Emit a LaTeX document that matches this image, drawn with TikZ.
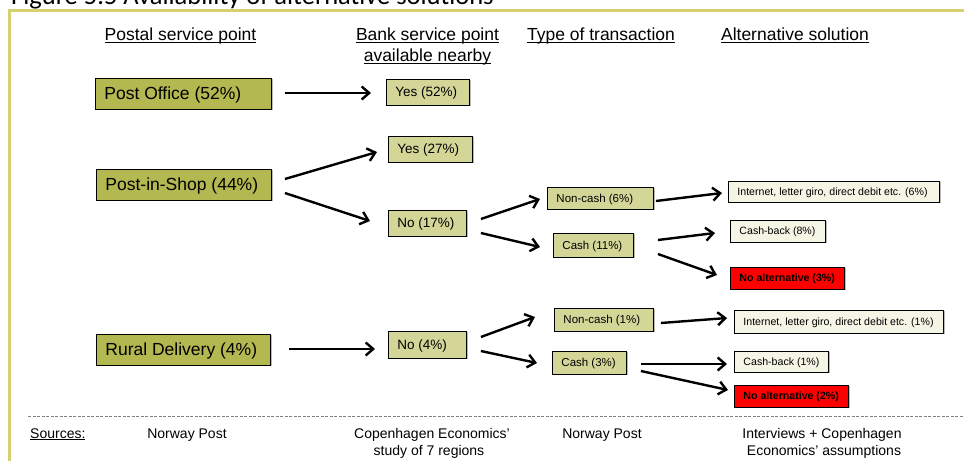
\documentclass[tikz,border=0pt]{standalone}
\usepackage{fontspec}
\setmainfont{Liberation Sans}
\newfontfamily\titlefont{Carlito}
\usetikzlibrary{arrows.meta,calc,shadows}
\definecolor{olivedark}{HTML}{B4B850}
\definecolor{olivemid}{HTML}{D4D698}
\definecolor{olivelight}{HTML}{F5F5E6}
\definecolor{framegold}{HTML}{D6D170}
\definecolor{redbox}{HTML}{FF0000}
\newcommand{\lefttext}[2]{\makebox[#1][l]{#2}}
\newcommand{\ulx}[1]{\leavevmode\setbox0\hbox{#1}\rlap{\rule[-1.9pt]{\wd0}{0.8pt}}\box0}
\begin{document}
\begin{tikzpicture}[x=1pt,y=-1pt,
 basebox/.style={draw=black, line width=0.9pt, inner xsep=9pt, inner ysep=0pt, anchor=west, text depth=0pt,
   drop shadow={shadow xshift=1.2pt,shadow yshift=-1.2pt,fill=black!45,opacity=0.6}},
 bigbox/.style={basebox, fill=olivedark, font=\fontsize{17.5}{20}\selectfont, text height=12.6pt},
 midbox/.style={basebox, fill=olivemid, font=\fontsize{13.5}{16}\selectfont, text height=9.7pt},
 smallbox/.style={basebox, fill=olivemid, font=\fontsize{11.5}{14}\selectfont, text height=8.3pt},
 altbox/.style={basebox, fill=olivelight, font=\fontsize{10.6}{13}\selectfont, text height=7.6pt},
 nobox/.style={basebox, fill=redbox, font=\fontsize{10.6}{13}\selectfont\bfseries, text height=7.6pt},
 arr/.style={-{Straight Barb[length=7.5pt,width=13pt]}, line width=2.4pt},
 head/.style={font=\fontsize{17.5}{21}\selectfont, anchor=base, inner sep=0pt},
 src/.style={font=\fontsize{14}{17.5}\selectfont, anchor=base, inner sep=0pt}]
\useasboundingbox (0,0) rectangle (964,461);
\clip (0,0) rectangle (964,461);

% title (cut off at top)
\node[anchor=base west, inner sep=0pt, font=\titlefont\fontsize{26.5}{30}\selectfont] (title) at (11,4.2) {Figure 5.5 Availability of alternative solutions};

% frame
\draw[framegold, line width=3pt] (964,10.7) -- (9.5,10.7) -- (9.5,461);

% headers
\node[head] (h1) at (180.5,40.5) {\ulx{Postal service point}};
\node[head] (h2a) at (427.5,40.5) {\ulx{Bank service point}};
\node[head] (h2b) at (427.5,61.5) {\ulx{available nearby}};
\node[head] (h3) at (601,40.5) {\ulx{Type of transaction}};
\node[head] (h4) at (795,40.5) {\ulx{Alternative solution}};

% column 1
\node[bigbox, minimum height=31pt] (po) at (95,93.5) {\lefttext{158pt}{Post Office (52\%)}};
\node[bigbox, minimum height=31pt] (pis) at (96,184.5) {\lefttext{157pt}{Post-in-Shop (44\%)}};
\node[bigbox, minimum height=31pt] (rd) at (96,349.5) {\lefttext{156pt}{Rural Delivery (4\%)}};

% column 2
\node[midbox, minimum height=26pt] (yes52) at (386,92) {\lefttext{65pt}{Yes (52\%)}};
\node[midbox, minimum height=26pt] (yes27) at (388,149) {\lefttext{66pt}{Yes (27\%)}};
\node[midbox, minimum height=26pt] (no17) at (388,223) {\lefttext{60pt}{No (17\%)}};
\node[midbox, minimum height=27pt] (no4) at (388,344.5) {\lefttext{60pt}{No (4\%)}};

% column 3
\node[smallbox, minimum height=22pt] (nc6) at (547,198) {\lefttext{88pt}{Non-cash (6\%)}};
\node[smallbox, minimum height=24pt] (c11) at (553,245) {\lefttext{62pt}{Cash (11\%)}};
\node[smallbox, minimum height=23pt] (nc1) at (554,319.5) {\lefttext{81pt}{Non-cash (1\%)}};
\node[smallbox, minimum height=23pt] (c3) at (552,362.5) {\lefttext{56pt}{Cash (3\%)}};

% column 4
\node[altbox, minimum height=21pt] (int6) at (728,191.5) {\lefttext{193pt}{Internet, letter giro, direct debit etc. (6\%)}};
\node[altbox, minimum height=22pt] (cb8) at (730,231) {\lefttext{77pt}{Cash-back (8\%)}};
\node[nobox, minimum height=22pt] (na3) at (730,278) {\lefttext{96pt}{No alternative (3\%)}};
\node[altbox, minimum height=23pt] (int1) at (734,321.5) {\lefttext{191pt}{Internet, letter giro, direct debit etc. (1\%)}};
\node[altbox, minimum height=21pt] (cb1) at (734,361.5) {\lefttext{76pt}{Cash-back (1\%)}};
\node[nobox, minimum height=22pt] (na2) at (734,396) {\lefttext{96pt}{No alternative (2\%)}};

% arrows
\draw[arr] ($(po.east)+(13,-0.5)$) -- ($(yes52.west)+(-15,1)$);
\draw[arr] ($(pis.east)+(13,-5.5)$) -- ($(yes27.west)+(-11,3)$);
\draw[arr] ($(pis.east)+(13,8.5)$) -- ($(no17.west)+(-18,-2)$);
\draw[arr] ($(no17.east)+(14,-4)$) -- ($(nc6.west)+(-7,1)$);
\draw[arr] ($(no17.east)+(14,10)$) -- ($(c11.west)+(-13,2)$);
\draw[arr] ($(nc6.east)+(2,3)$) -- ($(int6.west)+(-6,1.5)$);
\draw[arr] ($(c11.east)+(24,-5)$) -- ($(cb8.west)+(-15,2)$);
\draw[arr] ($(c11.east)+(24,9)$) -- ($(na3.west)+(-13,-3)$);
\draw[arr] ($(rd.east)+(18,-0.5)$) -- ($(no4.west)+(-13,4.5)$);
\draw[arr] ($(no4.east)+(14,-7.5)$) -- ($(nc1.west)+(-19,-2.5)$);
\draw[arr] ($(no4.east)+(14,6.5)$) -- ($(c3.west)+(-15,0.5)$);
\draw[arr] ($(nc1.east)+(7,3.5)$) -- ($(int1.west)+(-7,-3.5)$);
\draw[arr] ($(c3.east)+(14,1.5)$) -- ($(cb1.west)+(-7,2.5)$);
\draw[arr] ($(c3.east)+(14,8.5)$) -- ($(na2.west)+(-6,-6)$);

% sources
\draw[gray, line width=0.8pt, dash pattern=on 3pt off 1.5pt] (28,416) -- (964,416);
\node[src, anchor=base west] (s0) at (30,438.3) {\ulx{Sources:}};
\node[src] (s1) at (187,438.3) {Norway Post};
\node[src] (s2a) at (432,438.3) {Copenhagen Economics'};
\node[src] (s2b) at (429,455.7) {study of 7 regions};
\node[src] (s3) at (602,438.3) {Norway Post};
\node[src] (s4a) at (822,438.3) {Interviews + Copenhagen};
\node[src] (s4b) at (824,455.7) {Economics' assumptions};
\end{tikzpicture}
\end{document}
